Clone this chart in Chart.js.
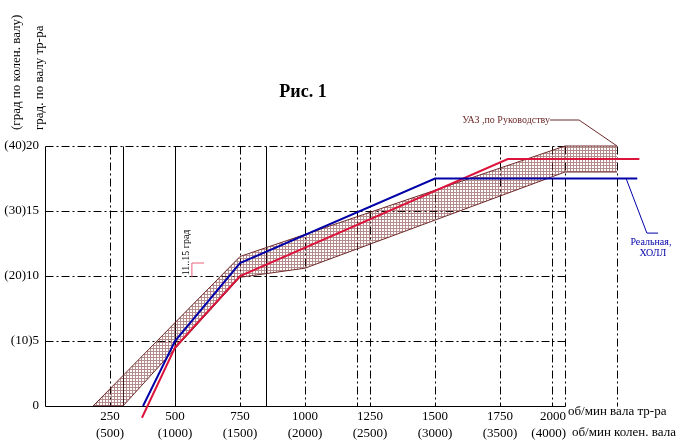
<!DOCTYPE html>
<html><head><meta charset="utf-8">
<script src="https://cdn.jsdelivr.net/npm/chart.js@4/dist/chart.umd.min.js"></script>
<style>html,body{margin:0;padding:0;background:#fff;}#wrap{width:697px;height:446px;position:relative;}</style>
</head><body><div id="wrap"><canvas id="c"></canvas></div>
<script>
// ---- data ----
const xTickValues = [250, 500, 750, 1000, 1250, 1500, 1750, 2000];
const xTickTop = ['250', '500', '750', '1000', '1250', '1500', '1750', '2000'];
const xTickBottom = ['(500)', '(1000)', '(1500)', '(2000)', '(2500)', '(3000)', '(3500)', '(4000)'];
const yTickValues = [0, 5, 10, 15, 20];
const yTickText = ['0', '(10)5', '(20)10', '(30)15', '(40)20'];
const gridXValues = [250, 300, 500, 750, 850, 1000, 1200, 1250, 1500, 1750, 1950, 2000, 2200];
const gridXSolid = [300, 500, 850];
const gridYValues = [5, 10, 15, 20];

const hallX = [377, 500, 750, 1500, 2278];
const hallY = [0, 5, 11, 17.5, 17.5];
const redX = [373, 500, 750, 1780, 2286];
const redY = [-0.9, 4.5, 10, 19, 19];
const uazUpperX = [185, 750, 2000, 2200];
const uazUpperY = [0, 11.5, 20, 20];
const uazLowerX = [185, 300, 750, 1000, 2000, 2200];
const uazLowerY = [0, 0, 9.9, 10.6, 18, 18];
const uazLeaderX = [1942, 2054, 2200];
const uazLeaderY = [22, 22, 20];
const hallLeaderX = [2235, 2315, 2358];
const hallLeaderY = [17.5, 13.3, 13.3];
const markX = [565, 565, 612];
const markY = [9.9, 11, 11];

const pts = (xs, ys) => xs.map((x, i) => ({x: x, y: ys[i]}));

// hatch pattern
const pc = document.createElement('canvas');
pc.width = 3; pc.height = 3;
const pctx = pc.getContext('2d');
pctx.fillStyle = 'rgba(120,45,45,0.55)';
pctx.fillRect(0, 0, 3, 1);
pctx.fillRect(0, 1, 1, 2);
const hatch = pctx.createPattern(pc, 'repeat');

const BROWN = '#6e2a2a';
const BLUE = '#0000a8';
const RED = '#dc143c';
const SERIF = '"Liberation Serif", "Times New Roman", serif';

const gridPlugin = {
  id: 'gridPlugin',
  beforeDatasetsDraw(chart) {
    const {ctx, scales: {x, y}} = chart;
    ctx.save();
    ctx.strokeStyle = '#000';
    ctx.lineWidth = 1;
    const y0 = Math.round(y.getPixelForValue(0)) + 0.5;
    const y20 = Math.round(y.getPixelForValue(20)) + 0.5;
    const x0 = Math.round(x.getPixelForValue(0)) + 0.5;
    const x2000 = Math.round(x.getPixelForValue(2000)) + 0.5;
    gridYValues.forEach(v => {
      const py = Math.round(y.getPixelForValue(v)) + 0.5;
      ctx.setLineDash([8, 3, 2, 3]);
      ctx.beginPath(); ctx.moveTo(x0, py); ctx.lineTo(x2000, py); ctx.stroke();
    });
    gridXValues.forEach(v => {
      const px = Math.round(x.getPixelForValue(v)) + 0.5;
      ctx.setLineDash(gridXSolid.includes(v) ? [] : [8, 3, 2, 3]);
      ctx.beginPath(); ctx.moveTo(px, y20); ctx.lineTo(px, y0); ctx.stroke();
    });
    ctx.setLineDash([]);
    ctx.beginPath(); ctx.moveTo(x0, y20); ctx.lineTo(x0, y0); ctx.lineTo(x2000, y0); ctx.stroke();
    ctx.restore();
  },
  afterDraw(chart) {
    const {ctx, scales: {x, y}} = chart;
    ctx.save();
    ctx.fillStyle = '#000';
    // x tick labels (two rows)
    ctx.font = '13px ' + SERIF;
    ctx.textBaseline = 'middle';
    const ay = y.getPixelForValue(0);
    xTickValues.forEach((v, i) => {
      const px = x.getPixelForValue(v);
      const last = i === xTickValues.length - 1;
      ctx.textAlign = last ? 'right' : 'center';
      const ox = last ? 1 : 0;
      ctx.fillText(xTickTop[i], px + ox, ay + 11);
      ctx.fillText(xTickBottom[i], px + ox, ay + 28);
    });
    const xe = x.getPixelForValue(2000);
    ctx.textAlign = 'left';
    ctx.fillText('об/мин вала тр-ра', xe + 3, ay + 6);
    ctx.fillText('об/мин колен. вала', xe + 7, ay + 27);
    // title
    ctx.font = 'bold 18px ' + SERIF;
    ctx.textAlign = 'center';
    ctx.fillText('Рис. 1', 303, 92);
    // rotated y titles
    ctx.font = '13px ' + SERIF;
    ctx.textAlign = 'left';
    ctx.save(); ctx.translate(17, 130); ctx.rotate(-Math.PI / 2); ctx.fillText('(град по колен. валу)', 0, 0); ctx.restore();
    ctx.save(); ctx.translate(40, 130); ctx.rotate(-Math.PI / 2); ctx.fillText('град. по валу тр-ра', 0, 0); ctx.restore();
    // 11..15 grad
    ctx.font = '10px ' + SERIF;
    const mx = x.getPixelForValue(markX[0]);
    const my = y.getPixelForValue(9.9);
    ctx.save(); ctx.translate(mx - 6, my - 2); ctx.rotate(-Math.PI / 2); ctx.fillText('11..15 град', 0, 0); ctx.restore();
    // UAZ label
    ctx.fillStyle = BROWN;
    ctx.textAlign = 'right';
    ctx.fillText('УАЗ ,по Руководству', x.getPixelForValue(uazLeaderX[0]), y.getPixelForValue(uazLeaderY[0]));
    // Hall label
    ctx.fillStyle = BLUE;
    ctx.textAlign = 'center';
    const hx = x.getPixelForValue(hallLeaderX[1]) + 4;
    const hy = y.getPixelForValue(hallLeaderY[1]);
    ctx.fillText('Реальная,', hx, hy + 9);
    ctx.fillText('ХОЛЛ', hx + 2, hy + 20);
    ctx.restore();
  }
};

new Chart(document.getElementById('c'), {
  type: 'scatter',
  data: {
    datasets: [
      {label: 'УАЗ верх', data: pts(uazUpperX, uazUpperY), showLine: true, borderColor: BROWN, borderWidth: 1, backgroundColor: hatch, fill: '+1', pointRadius: 0, order: 5},
      {label: 'УАЗ низ', data: pts(uazLowerX, uazLowerY), showLine: true, borderColor: BROWN, borderWidth: 1, fill: false, pointRadius: 0, order: 5},
      {label: 'УАЗ выноска', data: pts(uazLeaderX, uazLeaderY), showLine: true, borderColor: BROWN, borderWidth: 1, fill: false, pointRadius: 0, clip: false, order: 4},
      {label: 'Красная', data: pts(redX, redY), showLine: true, borderColor: RED, borderWidth: 2, fill: false, pointRadius: 0, clip: false, order: 2},
      {label: 'Реальная, ХОЛЛ', data: pts(hallX, hallY), showLine: true, borderColor: BLUE, borderWidth: 2, fill: false, pointRadius: 0, order: 1},
      {label: 'ХОЛЛ выноска', data: pts(hallLeaderX, hallLeaderY), showLine: true, borderColor: BLUE, borderWidth: 1, fill: false, pointRadius: 0, clip: false, order: 3},
      {label: 'метка', data: pts(markX, markY), showLine: true, borderColor: '#e8607a', borderWidth: 1, fill: false, pointRadius: 0, order: 3}
    ]
  },
  options: {
    responsive: true,
    maintainAspectRatio: false,
    animation: false,
    layout: {padding: {top: 120, right: 2, left: 0, bottom: 0}},
    plugins: {legend: {display: false}, title: {display: false}, tooltip: {enabled: false}},
    scales: {
      x: {
        type: 'linear', min: 0, max: 2500,
        afterFit(s) { s.height = 40; },
        afterBuildTicks(s) { s.ticks = xTickValues.map(v => ({value: v})); },
        grid: {display: false, drawTicks: false},
        border: {display: false},
        ticks: {display: false}
      },
      y: {
        type: 'linear', min: 0, max: 22,
        afterFit(s) { s.width = 45; },
        afterBuildTicks(s) { s.ticks = yTickValues.map(v => ({value: v})); },
        grid: {display: false, drawTicks: false},
        border: {display: false},
        ticks: {
          padding: 6, color: '#000',
          font: {family: SERIF, size: 13},
          callback: (v) => { const i = yTickValues.indexOf(v); return i >= 0 ? yTickText[i] : ''; }
        }
      }
    }
  },
  plugins: [gridPlugin]
});
</script>
</body></html>
